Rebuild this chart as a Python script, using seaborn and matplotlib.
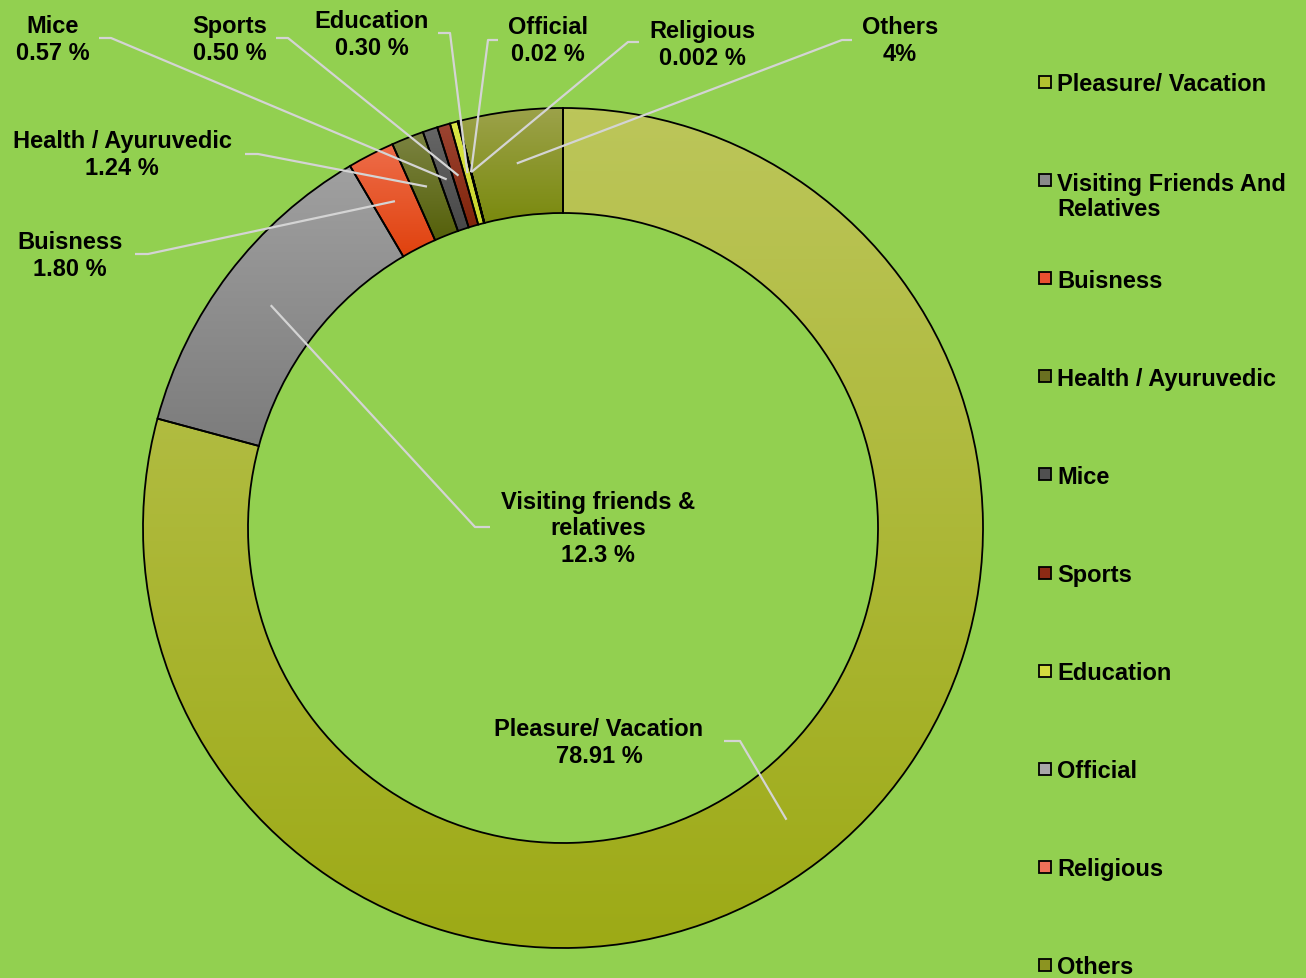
import numpy as np
import matplotlib
matplotlib.use("Agg")
import matplotlib.pyplot as plt
from matplotlib.colors import LinearSegmentedColormap
from matplotlib.patches import Rectangle
import seaborn as sns

# Purpose of visit shares (%), clockwise from 12 o'clock
categories = ["Pleasure/ Vacation", "Visiting Friends And\nRelatives", "Buisness",
              "Health / Ayuruvedic", "Mice", "Sports", "Education", "Official",
              "Religious", "Others"]
slice_names = ["Pleasure/ Vacation", "Visiting friends &\nrelatives", "Buisness",
               "Health / Ayuruvedic", "Mice", "Sports", "Education", "Official",
               "Religious", "Others"]
shares = [78.91, 12.3, 1.80, 1.24, 0.57, 0.50, 0.30, 0.02, 0.002, 4]
share_labels = ["78.91 %", "12.3 %", "1.80 %", "1.24 %", "0.57 %", "0.50 %",
                "0.30 %", "0.02 %", "0.002 %", "4%"]

# gradient colours (top -> bottom) and legend swatch colours
top_colors = ["#bcc65a", "#a0a0a0", "#ee6d4a", "#7c8442", "#666666", "#9c4432",
              "#dce646", "#b4b4b4", "#f28466", "#9ca24a"]
bottom_colors = ["#9daa16", "#7c7c7c", "#e0420e", "#55600a", "#484848", "#80240a",
                 "#c8d42c", "#9a9a9a", "#e8603e", "#7a8a0e"]
legend_colors = ["#b4c030", "#8a8a8a", "#e85030", "#6a7020", "#505050", "#8c2a14",
                 "#d4dc40", "#a8a8a8", "#f07058", "#8c9420"]

# label layout in pixels: text centre, leader start, leader elbow
text_pos = [(599, 743), (598, 529), (70, 256), (122, 155), (53, 40), (230, 40),
            (372, 35), (548, 41), (702, 45), (900, 41)]
lead_start = [(724, 742), (490, 528), (135, 255), (245, 155), (99, 39), (276, 39),
              (438, 34), (498, 41), (639, 43), (852, 41)]
lead_elbow = [(740, 742), (475, 528), (148, 255), (258, 155), (111, 39), (288, 39),
              (450, 34), (488, 41), (628, 43), (842, 41)]

W, H = 1306, 979
CX, CY, R = 563, 529, 420
BG = "#92d050"


def px(x, y):
    return (x - CX) / R, (CY - y) / R


sns.set_theme(style="white", rc={"figure.facecolor": BG, "axes.facecolor": BG})
plt.rcParams["font.family"] = ["Liberation Sans", "DejaVu Sans"]

fig = plt.figure(figsize=(W / 100, H / 100), dpi=100)
ax = fig.add_axes([0, 0, 1, 1])
ax.set_facecolor(BG)

wedges, _ = ax.pie(shares, startangle=90, counterclock=False, radius=1,
                   colors=legend_colors,
                   wedgeprops=dict(width=0.25, edgecolor="black", linewidth=1.3))

# vertical gradient fill clipped to each wedge
grad = np.linspace(0, 1, 256).reshape(-1, 1)
for w, c0, c1 in zip(wedges, top_colors, bottom_colors):
    ext = w.get_path().get_extents()
    cmap = LinearSegmentedColormap.from_list("g", [c0, c1])
    im = ax.imshow(grad, cmap=cmap, extent=[ext.x0, ext.x1, ext.y0, ext.y1],
                   origin="upper", aspect="auto", zorder=1.5, interpolation="bilinear")
    im.set_clip_path(w)
    w.set_facecolor("none")
    w.set_zorder(2)

# leader lines to the middle of each ring segment
for w, s, e in zip(wedges, lead_start, lead_elbow):
    mid = np.deg2rad((w.theta1 + w.theta2) / 2)
    r = 1 - 0.125
    tip = (r * np.cos(mid), r * np.sin(mid))
    p0, p1 = px(*s), px(*e)
    ax.plot([p0[0], p1[0], tip[0]], [p0[1], p1[1], tip[1]],
            color="#d4d4d4", lw=1.6, zorder=3, solid_capstyle="butt")

for name, pct, pos in zip(slice_names, share_labels, text_pos):
    x, y = px(*pos)
    ax.text(x, y, f"{name}\n{pct}", ha="center", va="center", fontsize=17,
            fontweight="bold", color="black", linespacing=1.2, zorder=4)

# legend on the right (marker lines up with the first text line)
for i, (lab, col) in enumerate(zip(categories, legend_colors)):
    yslot = 83 + i * 98.1
    x0, y0 = px(1039, yslot + 6)
    ax.add_patch(Rectangle((x0, y0), 12 / R, 12 / R, facecolor=col,
                           edgecolor="black", lw=1.3, zorder=4))
    extra = 26 * lab.count("\n")
    tx, ty = px(1057, yslot + 8.5 + extra)
    ax.text(tx, ty, lab, ha="left", va="baseline", fontsize=17,
            fontweight="bold", color="black", linespacing=1.1, zorder=4)

ax.set_xlim(-CX / R, (W - CX) / R)
ax.set_ylim(-(H - CY) / R, CY / R)
ax.set_aspect("auto")
ax.axis("off")

fig.savefig("out.png", dpi=100, facecolor=BG)
